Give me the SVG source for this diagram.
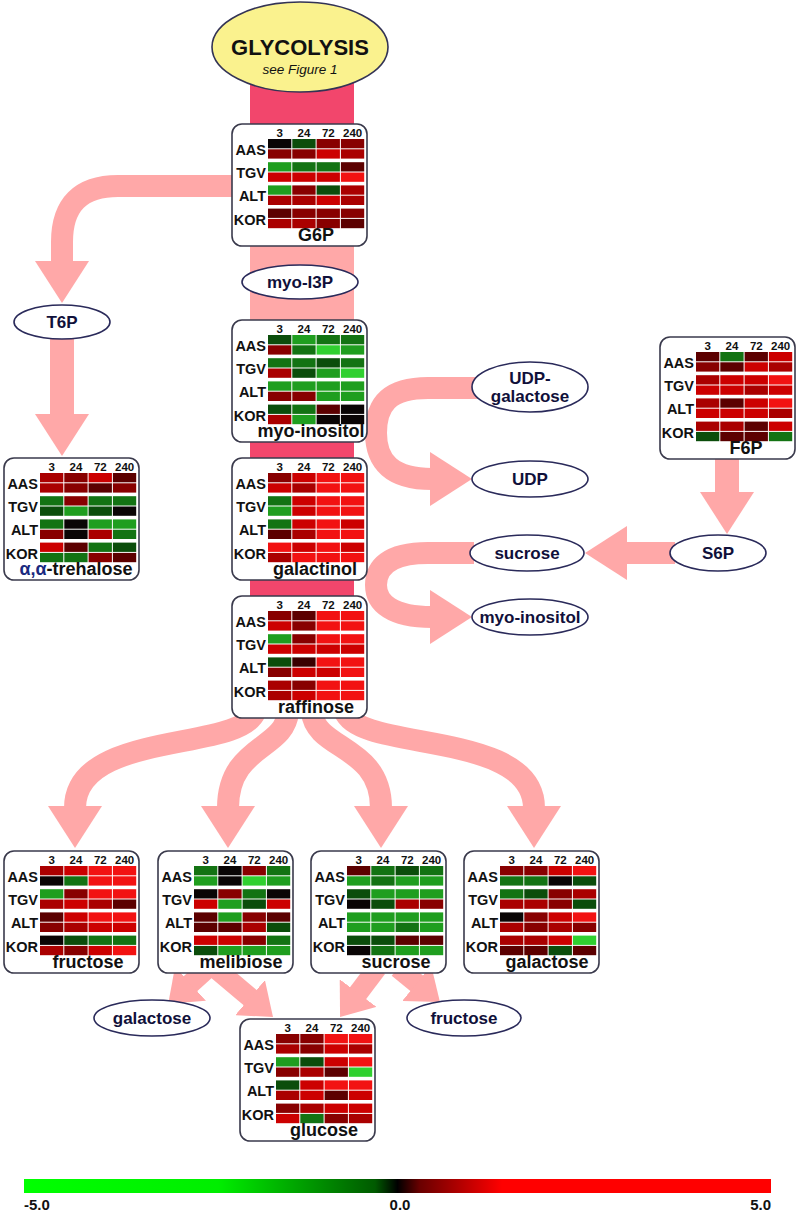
<svg xmlns="http://www.w3.org/2000/svg" width="800" height="1215" viewBox="0 0 800 1215">
<style>
.box{fill:#fff;stroke:#3a3a4c;stroke-width:1.6}
.hd{font:bold 11.5px 'Liberation Sans',Arial,sans-serif;text-anchor:middle;fill:#111}
.lb{font:bold 14.5px 'Liberation Sans',Arial,sans-serif;text-anchor:end;fill:#111}
.nm{font:bold 18px 'Liberation Sans',Arial,sans-serif;text-anchor:middle;fill:#111}
.el{fill:#fff;stroke:#2a2a5a;stroke-width:1.6}
.et{font:bold 17px 'Liberation Sans',Arial,sans-serif;text-anchor:middle;fill:#10103a}
.ar{fill:none;stroke:#FFA8A8;stroke-width:22}
.k{fill:#0a0505}.d0{fill:#5c0000}.d1{fill:#880000}.d2{fill:#aa0000}.d3{fill:#cc0000}.d4{fill:#f21212}
.g0{fill:#0b4d0b}.g1{fill:#137313}.g2{fill:#1f9e1f}.g3{fill:#30d030}
.lg{font:bold 15px 'Liberation Sans',Arial,sans-serif;fill:#111}
</style>
<defs>
<marker id="ah" markerUnits="userSpaceOnUse" markerWidth="42" markerHeight="54" refX="2" refY="27" orient="auto" viewBox="0 0 42 54"><path d="M0,0 L42,27 L0,54Z" fill="#FFA8A8"/></marker>
<marker id="as" markerUnits="userSpaceOnUse" markerWidth="30" markerHeight="46" refX="2" refY="23" orient="auto" viewBox="0 0 30 46"><path d="M0,0 L30,23 L0,46Z" fill="#FFA8A8"/></marker>
<linearGradient id="lgr" x1="0" x2="1" y1="0" y2="0">
<stop offset="0" stop-color="#00ff00"/><stop offset="0.26" stop-color="#00ee00"/><stop offset="0.47" stop-color="#005a00"/><stop offset="0.5" stop-color="#000"/><stop offset="0.53" stop-color="#6a0000"/><stop offset="0.64" stop-color="#ff0000"/><stop offset="1" stop-color="#ff0000"/>
</linearGradient>
</defs>
<rect width="800" height="1215" fill="#fff"/>

<g id="connectors">
<rect x="250" y="80" width="104" height="620" fill="#F2466C"/>
<rect x="250" y="244" width="104" height="78" fill="#FFA8A8"/>
<path class="ar" d="M240,186 H118 Q62,186 62,242 V263" marker-end="url(#ah)"/>
<path class="ar" d="M62,335 V416" marker-end="url(#ah)" style="stroke-width:24"/>
<path class="ar" d="M727,455 V494" marker-end="url(#ah)" style="stroke-width:24"/>
<path class="ar" d="M675,553 H625" marker-end="url(#ah)"/>
<path class="ar" d="M478,388 H428 C388,388 376,405 376,433 C376,462 392,479 432,479" marker-end="url(#ah)"/>
<path class="ar" d="M474,553 H428 C388,553 376,568 376,585 C376,603 392,617 432,617" marker-end="url(#ah)"/>
<path class="ar" d="M255,712 C240,752 75,730 75,808" marker-end="url(#ah)"/>
<path class="ar" d="M288,712 C285,750 228,745 228,808" marker-end="url(#ah)"/>
<path class="ar" d="M312,712 C315,750 381,745 381,808" marker-end="url(#ah)"/>
<path class="ar" d="M345,712 C360,752 534,730 534,808" marker-end="url(#ah)"/>
<path class="ar" d="M210,966 L189,985" marker-end="url(#as)" style="stroke-width:20"/>
<path class="ar" d="M215,968 L251.6,998.9" marker-end="url(#as)" style="stroke-width:20"/>
<path class="ar" d="M377,968 L356.9,994.7" marker-end="url(#as)" style="stroke-width:20"/>
<path class="ar" d="M398,968 L418.2,984.4" marker-end="url(#as)" style="stroke-width:20"/>
</g>

<g id="glycolysis">
<ellipse cx="300" cy="47" rx="88" ry="45" fill="#FAF28E" stroke="#333355" stroke-width="1.6"/>
<text x="300" y="55" style="font:bold 22px 'Liberation Sans',Arial,sans-serif;text-anchor:middle;fill:#111">GLYCOLYSIS</text>
<text x="300" y="74" style="font:italic 13.5px 'Liberation Sans',Arial,sans-serif;text-anchor:middle;fill:#111">see Figure 1</text>
</g>

<g id="myo-I3P"><ellipse class="el" cx="300" cy="282" rx="58" ry="17"/><text class="et" x="300" y="288">myo-I3P</text></g>
<g id="T6P"><ellipse class="el" cx="62" cy="322" rx="48" ry="17"/><text class="et" x="62" y="328">T6P</text></g>
<g id="UDP-galactose"><ellipse class="el" cx="530" cy="387" rx="58" ry="25"/><text class="et" x="530" y="384">UDP-</text><text class="et" x="530" y="402">galactose</text></g>
<g id="UDP"><ellipse class="el" cx="530" cy="479" rx="58" ry="18"/><text class="et" x="530" y="485">UDP</text></g>
<g id="sucrose-e"><ellipse class="el" cx="527" cy="553" rx="57" ry="18"/><text class="et" x="527" y="559">sucrose</text></g>
<g id="S6P"><ellipse class="el" cx="718" cy="553" rx="48" ry="18"/><text class="et" x="718" y="559">S6P</text></g>
<g id="myo-inositol-e"><ellipse class="el" cx="530" cy="617" rx="58" ry="18"/><text class="et" x="530" y="623">myo-inositol</text></g>
<g id="galactose-e"><ellipse class="el" cx="152" cy="1018" rx="58" ry="18"/><text class="et" x="152" y="1024">galactose</text></g>
<g id="fructose-e"><ellipse class="el" cx="464" cy="1018" rx="57" ry="18"/><text class="et" x="464" y="1024">fructose</text></g>

<g id="G6P" transform="translate(232,124)">
<rect class="box" width="135" height="122" rx="10"/>
<text class="hd" x="47.7" y="13.3">3</text><text class="hd" x="72" y="13.3">24</text><text class="hd" x="96.3" y="13.3">72</text><text class="hd" x="120.6" y="13.3">240</text>
<text class="lb" x="34" y="31">AAS</text><text class="lb" x="34" y="54.2">TGV</text><text class="lb" x="34" y="77.4">ALT</text><text class="lb" x="34" y="100.6">KOR</text>
<rect class="k" x="36" y="15" width="23.3" height="9.3"/><rect class="g0" x="60.3" y="15" width="23.3" height="9.3"/><rect class="d1" x="84.6" y="15" width="23.3" height="9.3"/><rect class="d1" x="108.9" y="15" width="23.3" height="9.3"/>
<rect class="d1" x="36" y="25.3" width="23.3" height="9.3"/><rect class="d1" x="60.3" y="25.3" width="23.3" height="9.3"/><rect class="d3" x="84.6" y="25.3" width="23.3" height="9.3"/><rect class="d2" x="108.9" y="25.3" width="23.3" height="9.3"/>
<rect class="g2" x="36" y="38.2" width="23.3" height="9.3"/><rect class="g1" x="60.3" y="38.2" width="23.3" height="9.3"/><rect class="g1" x="84.6" y="38.2" width="23.3" height="9.3"/><rect class="d0" x="108.9" y="38.2" width="23.3" height="9.3"/>
<rect class="d3" x="36" y="48.5" width="23.3" height="9.3"/><rect class="d3" x="60.3" y="48.5" width="23.3" height="9.3"/><rect class="d3" x="84.6" y="48.5" width="23.3" height="9.3"/><rect class="d4" x="108.9" y="48.5" width="23.3" height="9.3"/>
<rect class="g2" x="36" y="61.4" width="23.3" height="9.3"/><rect class="d1" x="60.3" y="61.4" width="23.3" height="9.3"/><rect class="g0" x="84.6" y="61.4" width="23.3" height="9.3"/><rect class="d2" x="108.9" y="61.4" width="23.3" height="9.3"/>
<rect class="d2" x="36" y="71.7" width="23.3" height="9.3"/><rect class="d2" x="60.3" y="71.7" width="23.3" height="9.3"/><rect class="d3" x="84.6" y="71.7" width="23.3" height="9.3"/><rect class="d2" x="108.9" y="71.7" width="23.3" height="9.3"/>
<rect class="d0" x="36" y="84.6" width="23.3" height="9.3"/><rect class="d1" x="60.3" y="84.6" width="23.3" height="9.3"/><rect class="d1" x="84.6" y="84.6" width="23.3" height="9.3"/><rect class="d1" x="108.9" y="84.6" width="23.3" height="9.3"/>
<rect class="d2" x="36" y="94.9" width="23.3" height="9.3"/><rect class="d2" x="60.3" y="94.9" width="23.3" height="9.3"/><rect class="d1" x="84.6" y="94.9" width="23.3" height="9.3"/><rect class="d0" x="108.9" y="94.9" width="23.3" height="9.3"/>
<text class="nm" x="84" y="117">G6P</text>
</g>

<g id="myo-inositol" transform="translate(232,320)">
<rect class="box" width="135" height="122" rx="10"/>
<text class="hd" x="47.7" y="13.3">3</text><text class="hd" x="72" y="13.3">24</text><text class="hd" x="96.3" y="13.3">72</text><text class="hd" x="120.6" y="13.3">240</text>
<text class="lb" x="34" y="31">AAS</text><text class="lb" x="34" y="54.2">TGV</text><text class="lb" x="34" y="77.4">ALT</text><text class="lb" x="34" y="100.6">KOR</text>
<rect class="g0" x="36" y="15" width="23.3" height="9.3"/><rect class="g2" x="60.3" y="15" width="23.3" height="9.3"/><rect class="g1" x="84.6" y="15" width="23.3" height="9.3"/><rect class="g1" x="108.9" y="15" width="23.3" height="9.3"/>
<rect class="d1" x="36" y="25.3" width="23.3" height="9.3"/><rect class="g1" x="60.3" y="25.3" width="23.3" height="9.3"/><rect class="g3" x="84.6" y="25.3" width="23.3" height="9.3"/><rect class="g2" x="108.9" y="25.3" width="23.3" height="9.3"/>
<rect class="g1" x="36" y="38.2" width="23.3" height="9.3"/><rect class="g1" x="60.3" y="38.2" width="23.3" height="9.3"/><rect class="g0" x="84.6" y="38.2" width="23.3" height="9.3"/><rect class="g1" x="108.9" y="38.2" width="23.3" height="9.3"/>
<rect class="d2" x="36" y="48.5" width="23.3" height="9.3"/><rect class="g0" x="60.3" y="48.5" width="23.3" height="9.3"/><rect class="g2" x="84.6" y="48.5" width="23.3" height="9.3"/><rect class="g3" x="108.9" y="48.5" width="23.3" height="9.3"/>
<rect class="g2" x="36" y="61.4" width="23.3" height="9.3"/><rect class="g2" x="60.3" y="61.4" width="23.3" height="9.3"/><rect class="g2" x="84.6" y="61.4" width="23.3" height="9.3"/><rect class="g2" x="108.9" y="61.4" width="23.3" height="9.3"/>
<rect class="d1" x="36" y="71.7" width="23.3" height="9.3"/><rect class="d1" x="60.3" y="71.7" width="23.3" height="9.3"/><rect class="g2" x="84.6" y="71.7" width="23.3" height="9.3"/><rect class="g2" x="108.9" y="71.7" width="23.3" height="9.3"/>
<rect class="g0" x="36" y="84.6" width="23.3" height="9.3"/><rect class="g1" x="60.3" y="84.6" width="23.3" height="9.3"/><rect class="d0" x="84.6" y="84.6" width="23.3" height="9.3"/><rect class="k" x="108.9" y="84.6" width="23.3" height="9.3"/>
<rect class="d2" x="36" y="94.9" width="23.3" height="9.3"/><rect class="g2" x="60.3" y="94.9" width="23.3" height="9.3"/><rect class="k" x="84.6" y="94.9" width="23.3" height="9.3"/><rect class="k" x="108.9" y="94.9" width="23.3" height="9.3"/>
<text class="nm" x="79" y="117">myo-inositol</text>
</g>

<g id="galactinol" transform="translate(232,458)">
<rect class="box" width="135" height="122" rx="10"/>
<text class="hd" x="47.7" y="13.3">3</text><text class="hd" x="72" y="13.3">24</text><text class="hd" x="96.3" y="13.3">72</text><text class="hd" x="120.6" y="13.3">240</text>
<text class="lb" x="34" y="31">AAS</text><text class="lb" x="34" y="54.2">TGV</text><text class="lb" x="34" y="77.4">ALT</text><text class="lb" x="34" y="100.6">KOR</text>
<rect class="d1" x="36" y="15" width="23.3" height="9.3"/><rect class="d3" x="60.3" y="15" width="23.3" height="9.3"/><rect class="d4" x="84.6" y="15" width="23.3" height="9.3"/><rect class="d4" x="108.9" y="15" width="23.3" height="9.3"/>
<rect class="d3" x="36" y="25.3" width="23.3" height="9.3"/><rect class="d2" x="60.3" y="25.3" width="23.3" height="9.3"/><rect class="d4" x="84.6" y="25.3" width="23.3" height="9.3"/><rect class="d4" x="108.9" y="25.3" width="23.3" height="9.3"/>
<rect class="g1" x="36" y="38.2" width="23.3" height="9.3"/><rect class="d3" x="60.3" y="38.2" width="23.3" height="9.3"/><rect class="d4" x="84.6" y="38.2" width="23.3" height="9.3"/><rect class="d4" x="108.9" y="38.2" width="23.3" height="9.3"/>
<rect class="g2" x="36" y="48.5" width="23.3" height="9.3"/><rect class="d3" x="60.3" y="48.5" width="23.3" height="9.3"/><rect class="d4" x="84.6" y="48.5" width="23.3" height="9.3"/><rect class="d4" x="108.9" y="48.5" width="23.3" height="9.3"/>
<rect class="g1" x="36" y="61.4" width="23.3" height="9.3"/><rect class="d3" x="60.3" y="61.4" width="23.3" height="9.3"/><rect class="d4" x="84.6" y="61.4" width="23.3" height="9.3"/><rect class="d3" x="108.9" y="61.4" width="23.3" height="9.3"/>
<rect class="d0" x="36" y="71.7" width="23.3" height="9.3"/><rect class="d2" x="60.3" y="71.7" width="23.3" height="9.3"/><rect class="d4" x="84.6" y="71.7" width="23.3" height="9.3"/><rect class="d4" x="108.9" y="71.7" width="23.3" height="9.3"/>
<rect class="d4" x="36" y="84.6" width="23.3" height="9.3"/><rect class="d3" x="60.3" y="84.6" width="23.3" height="9.3"/><rect class="d4" x="84.6" y="84.6" width="23.3" height="9.3"/><rect class="d3" x="108.9" y="84.6" width="23.3" height="9.3"/>
<rect class="d2" x="36" y="94.9" width="23.3" height="9.3"/><rect class="d4" x="60.3" y="94.9" width="23.3" height="9.3"/><rect class="d4" x="84.6" y="94.9" width="23.3" height="9.3"/><rect class="d4" x="108.9" y="94.9" width="23.3" height="9.3"/>
<text class="nm" x="83" y="117">galactinol</text>
</g>

<g id="raffinose" transform="translate(232,596)">
<rect class="box" width="135" height="122" rx="10"/>
<text class="hd" x="47.7" y="13.3">3</text><text class="hd" x="72" y="13.3">24</text><text class="hd" x="96.3" y="13.3">72</text><text class="hd" x="120.6" y="13.3">240</text>
<text class="lb" x="34" y="31">AAS</text><text class="lb" x="34" y="54.2">TGV</text><text class="lb" x="34" y="77.4">ALT</text><text class="lb" x="34" y="100.6">KOR</text>
<rect class="d1" x="36" y="15" width="23.3" height="9.3"/><rect class="d0" x="60.3" y="15" width="23.3" height="9.3"/><rect class="d4" x="84.6" y="15" width="23.3" height="9.3"/><rect class="d4" x="108.9" y="15" width="23.3" height="9.3"/>
<rect class="d3" x="36" y="25.3" width="23.3" height="9.3"/><rect class="d1" x="60.3" y="25.3" width="23.3" height="9.3"/><rect class="d4" x="84.6" y="25.3" width="23.3" height="9.3"/><rect class="d4" x="108.9" y="25.3" width="23.3" height="9.3"/>
<rect class="g2" x="36" y="38.2" width="23.3" height="9.3"/><rect class="d1" x="60.3" y="38.2" width="23.3" height="9.3"/><rect class="d4" x="84.6" y="38.2" width="23.3" height="9.3"/><rect class="d4" x="108.9" y="38.2" width="23.3" height="9.3"/>
<rect class="d3" x="36" y="48.5" width="23.3" height="9.3"/><rect class="d3" x="60.3" y="48.5" width="23.3" height="9.3"/><rect class="d3" x="84.6" y="48.5" width="23.3" height="9.3"/><rect class="d3" x="108.9" y="48.5" width="23.3" height="9.3"/>
<rect class="g0" x="36" y="61.4" width="23.3" height="9.3"/><rect x="60.3" y="61.4" width="23.3" height="9.3" fill="#3a0000"/><rect class="d4" x="84.6" y="61.4" width="23.3" height="9.3"/><rect class="d4" x="108.9" y="61.4" width="23.3" height="9.3"/>
<rect class="d1" x="36" y="71.7" width="23.3" height="9.3"/><rect class="d3" x="60.3" y="71.7" width="23.3" height="9.3"/><rect class="d3" x="84.6" y="71.7" width="23.3" height="9.3"/><rect class="d4" x="108.9" y="71.7" width="23.3" height="9.3"/>
<rect class="d2" x="36" y="84.6" width="23.3" height="9.3"/><rect class="d1" x="60.3" y="84.6" width="23.3" height="9.3"/><rect class="d4" x="84.6" y="84.6" width="23.3" height="9.3"/><rect class="d4" x="108.9" y="84.6" width="23.3" height="9.3"/>
<rect class="d2" x="36" y="94.9" width="23.3" height="9.3"/><rect class="d3" x="60.3" y="94.9" width="23.3" height="9.3"/><rect class="d4" x="84.6" y="94.9" width="23.3" height="9.3"/><rect class="d4" x="108.9" y="94.9" width="23.3" height="9.3"/>
<text class="nm" x="84" y="117">raffinose</text>
</g>

<g id="F6P" transform="translate(660,337)">
<rect class="box" width="135" height="122" rx="10"/>
<text class="hd" x="47.7" y="13.3">3</text><text class="hd" x="72" y="13.3">24</text><text class="hd" x="96.3" y="13.3">72</text><text class="hd" x="120.6" y="13.3">240</text>
<text class="lb" x="34" y="31">AAS</text><text class="lb" x="34" y="54.2">TGV</text><text class="lb" x="34" y="77.4">ALT</text><text class="lb" x="34" y="100.6">KOR</text>
<rect class="d0" x="36" y="15" width="23.3" height="9.3"/><rect class="g1" x="60.3" y="15" width="23.3" height="9.3"/><rect class="d0" x="84.6" y="15" width="23.3" height="9.3"/><rect class="d3" x="108.9" y="15" width="23.3" height="9.3"/>
<rect class="d1" x="36" y="25.3" width="23.3" height="9.3"/><rect class="d0" x="60.3" y="25.3" width="23.3" height="9.3"/><rect class="d3" x="84.6" y="25.3" width="23.3" height="9.3"/><rect class="d2" x="108.9" y="25.3" width="23.3" height="9.3"/>
<rect class="d2" x="36" y="38.2" width="23.3" height="9.3"/><rect class="d3" x="60.3" y="38.2" width="23.3" height="9.3"/><rect class="d3" x="84.6" y="38.2" width="23.3" height="9.3"/><rect class="d4" x="108.9" y="38.2" width="23.3" height="9.3"/>
<rect class="d3" x="36" y="48.5" width="23.3" height="9.3"/><rect class="d3" x="60.3" y="48.5" width="23.3" height="9.3"/><rect class="d2" x="84.6" y="48.5" width="23.3" height="9.3"/><rect class="d3" x="108.9" y="48.5" width="23.3" height="9.3"/>
<rect class="d2" x="36" y="61.4" width="23.3" height="9.3"/><rect class="d0" x="60.3" y="61.4" width="23.3" height="9.3"/><rect class="d3" x="84.6" y="61.4" width="23.3" height="9.3"/><rect class="d4" x="108.9" y="61.4" width="23.3" height="9.3"/>
<rect class="d3" x="36" y="71.7" width="23.3" height="9.3"/><rect class="d3" x="60.3" y="71.7" width="23.3" height="9.3"/><rect class="d3" x="84.6" y="71.7" width="23.3" height="9.3"/><rect class="d2" x="108.9" y="71.7" width="23.3" height="9.3"/>
<rect class="d2" x="36" y="84.6" width="23.3" height="9.3"/><rect class="d2" x="60.3" y="84.6" width="23.3" height="9.3"/><rect class="d0" x="84.6" y="84.6" width="23.3" height="9.3"/><rect class="d3" x="108.9" y="84.6" width="23.3" height="9.3"/>
<rect class="g0" x="36" y="94.9" width="23.3" height="9.3"/><rect class="d0" x="60.3" y="94.9" width="23.3" height="9.3"/><rect class="d0" x="84.6" y="94.9" width="23.3" height="9.3"/><rect class="g1" x="108.9" y="94.9" width="23.3" height="9.3"/>
<text class="nm" x="86" y="117">F6P</text>
</g>

<g id="trehalose" transform="translate(4,458)">
<rect class="box" width="135" height="122" rx="10"/>
<text class="hd" x="47.7" y="13.3">3</text><text class="hd" x="72" y="13.3">24</text><text class="hd" x="96.3" y="13.3">72</text><text class="hd" x="120.6" y="13.3">240</text>
<text class="lb" x="34" y="31">AAS</text><text class="lb" x="34" y="54.2">TGV</text><text class="lb" x="34" y="77.4">ALT</text><text class="lb" x="34" y="100.6">KOR</text>
<rect class="d2" x="36" y="15" width="23.3" height="9.3"/><rect class="d1" x="60.3" y="15" width="23.3" height="9.3"/><rect class="d3" x="84.6" y="15" width="23.3" height="9.3"/><rect class="d0" x="108.9" y="15" width="23.3" height="9.3"/>
<rect class="d2" x="36" y="25.3" width="23.3" height="9.3"/><rect class="d1" x="60.3" y="25.3" width="23.3" height="9.3"/><rect class="d0" x="84.6" y="25.3" width="23.3" height="9.3"/><rect class="d1" x="108.9" y="25.3" width="23.3" height="9.3"/>
<rect class="g1" x="36" y="38.2" width="23.3" height="9.3"/><rect class="d1" x="60.3" y="38.2" width="23.3" height="9.3"/><rect class="g1" x="84.6" y="38.2" width="23.3" height="9.3"/><rect class="g1" x="108.9" y="38.2" width="23.3" height="9.3"/>
<rect class="g0" x="36" y="48.5" width="23.3" height="9.3"/><rect class="g2" x="60.3" y="48.5" width="23.3" height="9.3"/><rect class="g0" x="84.6" y="48.5" width="23.3" height="9.3"/><rect class="k" x="108.9" y="48.5" width="23.3" height="9.3"/>
<rect class="g1" x="36" y="61.4" width="23.3" height="9.3"/><rect class="k" x="60.3" y="61.4" width="23.3" height="9.3"/><rect class="g2" x="84.6" y="61.4" width="23.3" height="9.3"/><rect class="g2" x="108.9" y="61.4" width="23.3" height="9.3"/>
<rect class="d1" x="36" y="71.7" width="23.3" height="9.3"/><rect class="k" x="60.3" y="71.7" width="23.3" height="9.3"/><rect class="d2" x="84.6" y="71.7" width="23.3" height="9.3"/><rect class="g1" x="108.9" y="71.7" width="23.3" height="9.3"/>
<rect class="d3" x="36" y="84.6" width="23.3" height="9.3"/><rect class="d0" x="60.3" y="84.6" width="23.3" height="9.3"/><rect class="g1" x="84.6" y="84.6" width="23.3" height="9.3"/><rect class="g0" x="108.9" y="84.6" width="23.3" height="9.3"/>
<rect class="g1" x="36" y="94.9" width="23.3" height="9.3"/><rect class="g1" x="60.3" y="94.9" width="23.3" height="9.3"/><rect class="d1" x="84.6" y="94.9" width="23.3" height="9.3"/><rect class="d0" x="108.9" y="94.9" width="23.3" height="9.3"/>
<text class="nm" x="72" y="117"><tspan fill="#1a2a80">α,α</tspan>-trehalose</text>
</g>

<g id="fructose" transform="translate(4,851)">
<rect class="box" width="135" height="122" rx="10"/>
<text class="hd" x="47.7" y="13.3">3</text><text class="hd" x="72" y="13.3">24</text><text class="hd" x="96.3" y="13.3">72</text><text class="hd" x="120.6" y="13.3">240</text>
<text class="lb" x="34" y="31">AAS</text><text class="lb" x="34" y="54.2">TGV</text><text class="lb" x="34" y="77.4">ALT</text><text class="lb" x="34" y="100.6">KOR</text>
<rect class="d2" x="36" y="15" width="23.3" height="9.3"/><rect class="d3" x="60.3" y="15" width="23.3" height="9.3"/><rect class="d4" x="84.6" y="15" width="23.3" height="9.3"/><rect class="d4" x="108.9" y="15" width="23.3" height="9.3"/>
<rect class="k" x="36" y="25.3" width="23.3" height="9.3"/><rect class="g1" x="60.3" y="25.3" width="23.3" height="9.3"/><rect class="d4" x="84.6" y="25.3" width="23.3" height="9.3"/><rect class="d4" x="108.9" y="25.3" width="23.3" height="9.3"/>
<rect class="g2" x="36" y="38.2" width="23.3" height="9.3"/><rect class="d1" x="60.3" y="38.2" width="23.3" height="9.3"/><rect class="d4" x="84.6" y="38.2" width="23.3" height="9.3"/><rect class="d4" x="108.9" y="38.2" width="23.3" height="9.3"/>
<rect class="d2" x="36" y="48.5" width="23.3" height="9.3"/><rect class="d3" x="60.3" y="48.5" width="23.3" height="9.3"/><rect class="d2" x="84.6" y="48.5" width="23.3" height="9.3"/><rect class="d0" x="108.9" y="48.5" width="23.3" height="9.3"/>
<rect class="d0" x="36" y="61.4" width="23.3" height="9.3"/><rect class="d3" x="60.3" y="61.4" width="23.3" height="9.3"/><rect class="d4" x="84.6" y="61.4" width="23.3" height="9.3"/><rect class="d4" x="108.9" y="61.4" width="23.3" height="9.3"/>
<rect class="d1" x="36" y="71.7" width="23.3" height="9.3"/><rect class="d2" x="60.3" y="71.7" width="23.3" height="9.3"/><rect class="d3" x="84.6" y="71.7" width="23.3" height="9.3"/><rect class="d3" x="108.9" y="71.7" width="23.3" height="9.3"/>
<rect class="k" x="36" y="84.6" width="23.3" height="9.3"/><rect class="g0" x="60.3" y="84.6" width="23.3" height="9.3"/><rect class="g1" x="84.6" y="84.6" width="23.3" height="9.3"/><rect class="g1" x="108.9" y="84.6" width="23.3" height="9.3"/>
<rect class="d2" x="36" y="94.9" width="23.3" height="9.3"/><rect class="d1" x="60.3" y="94.9" width="23.3" height="9.3"/><rect class="d3" x="84.6" y="94.9" width="23.3" height="9.3"/><rect class="d4" x="108.9" y="94.9" width="23.3" height="9.3"/>
<text class="nm" x="84" y="117">fructose</text>
</g>

<g id="melibiose" transform="translate(158,851)">
<rect class="box" width="135" height="122" rx="10"/>
<text class="hd" x="47.7" y="13.3">3</text><text class="hd" x="72" y="13.3">24</text><text class="hd" x="96.3" y="13.3">72</text><text class="hd" x="120.6" y="13.3">240</text>
<text class="lb" x="34" y="31">AAS</text><text class="lb" x="34" y="54.2">TGV</text><text class="lb" x="34" y="77.4">ALT</text><text class="lb" x="34" y="100.6">KOR</text>
<rect class="g1" x="36" y="15" width="23.3" height="9.3"/><rect class="k" x="60.3" y="15" width="23.3" height="9.3"/><rect class="d1" x="84.6" y="15" width="23.3" height="9.3"/><rect class="g1" x="108.9" y="15" width="23.3" height="9.3"/>
<rect class="g2" x="36" y="25.3" width="23.3" height="9.3"/><rect class="k" x="60.3" y="25.3" width="23.3" height="9.3"/><rect class="g3" x="84.6" y="25.3" width="23.3" height="9.3"/><rect class="g2" x="108.9" y="25.3" width="23.3" height="9.3"/>
<rect class="k" x="36" y="38.2" width="23.3" height="9.3"/><rect class="d1" x="60.3" y="38.2" width="23.3" height="9.3"/><rect class="g1" x="84.6" y="38.2" width="23.3" height="9.3"/><rect class="k" x="108.9" y="38.2" width="23.3" height="9.3"/>
<rect class="d3" x="36" y="48.5" width="23.3" height="9.3"/><rect class="g2" x="60.3" y="48.5" width="23.3" height="9.3"/><rect class="g0" x="84.6" y="48.5" width="23.3" height="9.3"/><rect class="d3" x="108.9" y="48.5" width="23.3" height="9.3"/>
<rect class="d0" x="36" y="61.4" width="23.3" height="9.3"/><rect class="g2" x="60.3" y="61.4" width="23.3" height="9.3"/><rect class="d1" x="84.6" y="61.4" width="23.3" height="9.3"/><rect class="d0" x="108.9" y="61.4" width="23.3" height="9.3"/>
<rect class="d0" x="36" y="71.7" width="23.3" height="9.3"/><rect class="d0" x="60.3" y="71.7" width="23.3" height="9.3"/><rect class="d2" x="84.6" y="71.7" width="23.3" height="9.3"/><rect class="g0" x="108.9" y="71.7" width="23.3" height="9.3"/>
<rect class="d3" x="36" y="84.6" width="23.3" height="9.3"/><rect class="d3" x="60.3" y="84.6" width="23.3" height="9.3"/><rect class="d1" x="84.6" y="84.6" width="23.3" height="9.3"/><rect class="g1" x="108.9" y="84.6" width="23.3" height="9.3"/>
<rect class="g0" x="36" y="94.9" width="23.3" height="9.3"/><rect class="g2" x="60.3" y="94.9" width="23.3" height="9.3"/><rect class="g2" x="84.6" y="94.9" width="23.3" height="9.3"/><rect class="g2" x="108.9" y="94.9" width="23.3" height="9.3"/>
<text class="nm" x="83" y="117">melibiose</text>
</g>

<g id="sucrose" transform="translate(311,851)">
<rect class="box" width="135" height="122" rx="10"/>
<text class="hd" x="47.7" y="13.3">3</text><text class="hd" x="72" y="13.3">24</text><text class="hd" x="96.3" y="13.3">72</text><text class="hd" x="120.6" y="13.3">240</text>
<text class="lb" x="34" y="31">AAS</text><text class="lb" x="34" y="54.2">TGV</text><text class="lb" x="34" y="77.4">ALT</text><text class="lb" x="34" y="100.6">KOR</text>
<rect class="d0" x="36" y="15" width="23.3" height="9.3"/><rect class="g1" x="60.3" y="15" width="23.3" height="9.3"/><rect class="g0" x="84.6" y="15" width="23.3" height="9.3"/><rect class="g1" x="108.9" y="15" width="23.3" height="9.3"/>
<rect class="g2" x="36" y="25.3" width="23.3" height="9.3"/><rect class="g1" x="60.3" y="25.3" width="23.3" height="9.3"/><rect class="g2" x="84.6" y="25.3" width="23.3" height="9.3"/><rect class="g2" x="108.9" y="25.3" width="23.3" height="9.3"/>
<rect class="g0" x="36" y="38.2" width="23.3" height="9.3"/><rect class="g2" x="60.3" y="38.2" width="23.3" height="9.3"/><rect class="g2" x="84.6" y="38.2" width="23.3" height="9.3"/><rect class="g2" x="108.9" y="38.2" width="23.3" height="9.3"/>
<rect class="k" x="36" y="48.5" width="23.3" height="9.3"/><rect class="g0" x="60.3" y="48.5" width="23.3" height="9.3"/><rect class="d2" x="84.6" y="48.5" width="23.3" height="9.3"/><rect class="d1" x="108.9" y="48.5" width="23.3" height="9.3"/>
<rect class="g2" x="36" y="61.4" width="23.3" height="9.3"/><rect class="g2" x="60.3" y="61.4" width="23.3" height="9.3"/><rect class="g2" x="84.6" y="61.4" width="23.3" height="9.3"/><rect class="g2" x="108.9" y="61.4" width="23.3" height="9.3"/>
<rect class="g2" x="36" y="71.7" width="23.3" height="9.3"/><rect class="g2" x="60.3" y="71.7" width="23.3" height="9.3"/><rect class="g1" x="84.6" y="71.7" width="23.3" height="9.3"/><rect class="g2" x="108.9" y="71.7" width="23.3" height="9.3"/>
<rect class="g0" x="36" y="84.6" width="23.3" height="9.3"/><rect class="g0" x="60.3" y="84.6" width="23.3" height="9.3"/><rect class="d0" x="84.6" y="84.6" width="23.3" height="9.3"/><rect class="d0" x="108.9" y="84.6" width="23.3" height="9.3"/>
<rect class="k" x="36" y="94.9" width="23.3" height="9.3"/><rect class="g1" x="60.3" y="94.9" width="23.3" height="9.3"/><rect class="g2" x="84.6" y="94.9" width="23.3" height="9.3"/><rect class="g2" x="108.9" y="94.9" width="23.3" height="9.3"/>
<text class="nm" x="85" y="117">sucrose</text>
</g>

<g id="galactose" transform="translate(464,851)">
<rect class="box" width="135" height="122" rx="10"/>
<text class="hd" x="47.7" y="13.3">3</text><text class="hd" x="72" y="13.3">24</text><text class="hd" x="96.3" y="13.3">72</text><text class="hd" x="120.6" y="13.3">240</text>
<text class="lb" x="34" y="31">AAS</text><text class="lb" x="34" y="54.2">TGV</text><text class="lb" x="34" y="77.4">ALT</text><text class="lb" x="34" y="100.6">KOR</text>
<rect class="d1" x="36" y="15" width="23.3" height="9.3"/><rect class="d1" x="60.3" y="15" width="23.3" height="9.3"/><rect class="d3" x="84.6" y="15" width="23.3" height="9.3"/><rect class="d4" x="108.9" y="15" width="23.3" height="9.3"/>
<rect class="g1" x="36" y="25.3" width="23.3" height="9.3"/><rect class="g1" x="60.3" y="25.3" width="23.3" height="9.3"/><rect class="k" x="84.6" y="25.3" width="23.3" height="9.3"/><rect class="g0" x="108.9" y="25.3" width="23.3" height="9.3"/>
<rect class="g1" x="36" y="38.2" width="23.3" height="9.3"/><rect class="g0" x="60.3" y="38.2" width="23.3" height="9.3"/><rect class="d1" x="84.6" y="38.2" width="23.3" height="9.3"/><rect class="d2" x="108.9" y="38.2" width="23.3" height="9.3"/>
<rect class="d2" x="36" y="48.5" width="23.3" height="9.3"/><rect class="d2" x="60.3" y="48.5" width="23.3" height="9.3"/><rect class="d1" x="84.6" y="48.5" width="23.3" height="9.3"/><rect class="g0" x="108.9" y="48.5" width="23.3" height="9.3"/>
<rect class="k" x="36" y="61.4" width="23.3" height="9.3"/><rect class="d1" x="60.3" y="61.4" width="23.3" height="9.3"/><rect class="d3" x="84.6" y="61.4" width="23.3" height="9.3"/><rect class="d4" x="108.9" y="61.4" width="23.3" height="9.3"/>
<rect class="d2" x="36" y="71.7" width="23.3" height="9.3"/><rect class="d1" x="60.3" y="71.7" width="23.3" height="9.3"/><rect class="d2" x="84.6" y="71.7" width="23.3" height="9.3"/><rect class="d1" x="108.9" y="71.7" width="23.3" height="9.3"/>
<rect class="d2" x="36" y="84.6" width="23.3" height="9.3"/><rect class="d2" x="60.3" y="84.6" width="23.3" height="9.3"/><rect class="d3" x="84.6" y="84.6" width="23.3" height="9.3"/><rect class="g3" x="108.9" y="84.6" width="23.3" height="9.3"/>
<rect class="d0" x="36" y="94.9" width="23.3" height="9.3"/><rect class="d0" x="60.3" y="94.9" width="23.3" height="9.3"/><rect class="g0" x="84.6" y="94.9" width="23.3" height="9.3"/><rect class="d0" x="108.9" y="94.9" width="23.3" height="9.3"/>
<text class="nm" x="83" y="117">galactose</text>
</g>

<g id="glucose" transform="translate(240,1019)">
<rect class="box" width="135" height="122" rx="10"/>
<text class="hd" x="47.7" y="13.3">3</text><text class="hd" x="72" y="13.3">24</text><text class="hd" x="96.3" y="13.3">72</text><text class="hd" x="120.6" y="13.3">240</text>
<text class="lb" x="34" y="31">AAS</text><text class="lb" x="34" y="54.2">TGV</text><text class="lb" x="34" y="77.4">ALT</text><text class="lb" x="34" y="100.6">KOR</text>
<rect class="d1" x="36" y="15" width="23.3" height="9.3"/><rect class="d1" x="60.3" y="15" width="23.3" height="9.3"/><rect class="d4" x="84.6" y="15" width="23.3" height="9.3"/><rect class="d4" x="108.9" y="15" width="23.3" height="9.3"/>
<rect class="d2" x="36" y="25.3" width="23.3" height="9.3"/><rect class="d1" x="60.3" y="25.3" width="23.3" height="9.3"/><rect class="d3" x="84.6" y="25.3" width="23.3" height="9.3"/><rect class="d2" x="108.9" y="25.3" width="23.3" height="9.3"/>
<rect class="g2" x="36" y="38.2" width="23.3" height="9.3"/><rect class="g0" x="60.3" y="38.2" width="23.3" height="9.3"/><rect class="d3" x="84.6" y="38.2" width="23.3" height="9.3"/><rect class="d4" x="108.9" y="38.2" width="23.3" height="9.3"/>
<rect class="d1" x="36" y="48.5" width="23.3" height="9.3"/><rect class="d2" x="60.3" y="48.5" width="23.3" height="9.3"/><rect class="d0" x="84.6" y="48.5" width="23.3" height="9.3"/><rect class="g3" x="108.9" y="48.5" width="23.3" height="9.3"/>
<rect class="g0" x="36" y="61.4" width="23.3" height="9.3"/><rect class="d3" x="60.3" y="61.4" width="23.3" height="9.3"/><rect class="d4" x="84.6" y="61.4" width="23.3" height="9.3"/><rect class="d4" x="108.9" y="61.4" width="23.3" height="9.3"/>
<rect class="d2" x="36" y="71.7" width="23.3" height="9.3"/><rect class="d3" x="60.3" y="71.7" width="23.3" height="9.3"/><rect class="d0" x="84.6" y="71.7" width="23.3" height="9.3"/><rect class="d3" x="108.9" y="71.7" width="23.3" height="9.3"/>
<rect class="d1" x="36" y="84.6" width="23.3" height="9.3"/><rect class="d2" x="60.3" y="84.6" width="23.3" height="9.3"/><rect class="d3" x="84.6" y="84.6" width="23.3" height="9.3"/><rect class="d3" x="108.9" y="84.6" width="23.3" height="9.3"/>
<rect class="d3" x="36" y="94.9" width="23.3" height="9.3"/><rect class="g1" x="60.3" y="94.9" width="23.3" height="9.3"/><rect class="d1" x="84.6" y="94.9" width="23.3" height="9.3"/><rect class="d2" x="108.9" y="94.9" width="23.3" height="9.3"/>
<text class="nm" x="84" y="117">glucose</text>
</g>

<g id="legend">
<rect x="24" y="1179" width="747" height="14" fill="url(#lgr)"/>
<text class="lg" x="24" y="1210">-5.0</text>
<text class="lg" x="400" y="1210" text-anchor="middle">0.0</text>
<text class="lg" x="771" y="1210" text-anchor="end">5.0</text>
</g>
</svg>
